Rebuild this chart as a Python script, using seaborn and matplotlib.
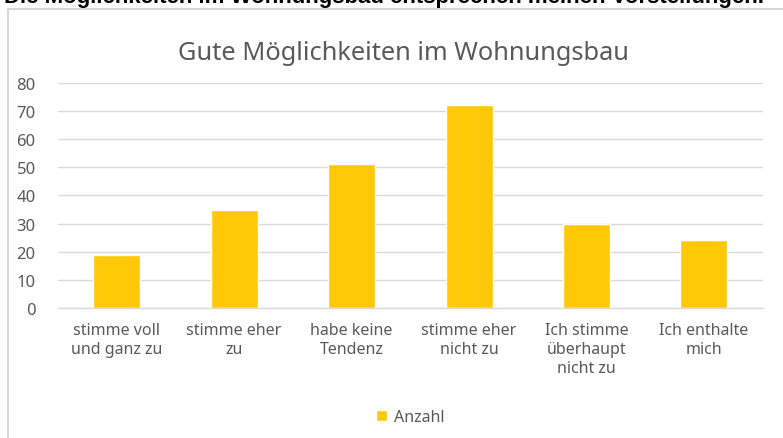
import matplotlib
matplotlib.use("Agg")
import matplotlib.pyplot as plt
from matplotlib.patches import Rectangle
import seaborn as sns
import pandas as pd

categories = [
    "stimme voll\nund ganz zu",
    "stimme eher\nzu",
    "habe keine\nTendenz",
    "stimme eher\nnicht zu",
    "Ich stimme\nüberhaupt\nnicht zu",
    "Ich enthalte\nmich",
]
anzahl = [19, 35, 51, 72, 30, 24]
y_ticks = [0, 10, 20, 30, 40, 50, 60, 70, 80]

sns.set_theme(style="white")
plt.rcParams["font.family"] = ["Noto Sans", "DejaVu Sans"]

text_grey = "#595959"
bar_color = "#FFC90A"

df = pd.DataFrame({"Kategorie": categories, "Anzahl": anzahl})

fig = plt.figure(figsize=(7.83, 4.39), dpi=100)
ax = fig.add_axes([0.074, 0.296, 0.90, 0.513])

sns.barplot(data=df, x="Kategorie", y="Anzahl", color=bar_color,
            width=0.4, ax=ax, label="Anzahl", saturation=1)

ax.set_ylim(0, 80)
ax.set_yticks(y_ticks)
ax.set_xlim(-0.5, len(categories) - 0.5)
ax.yaxis.grid(True, color="#D9D9D9", linewidth=1)
ax.set_axisbelow(True)
for side in ["top", "right", "left"]:
    ax.spines[side].set_visible(False)
ax.spines["bottom"].set_color("#D9D9D9")
ax.spines["bottom"].set_linewidth(1)
ax.set_xlabel("")
ax.set_ylabel("")
ax.tick_params(axis="both", length=0, labelsize=11.5, colors=text_grey, pad=10)
ax.tick_params(axis="y", labelsize=12, pad=16)
for lbl in ax.get_xticklabels():
    lbl.set_linespacing(1.25)

ax.set_title("Gute Möglichkeiten im Wohnungsbau", fontsize=18.3,
             color=text_grey, pad=17, x=0.49)

leg = ax.legend(loc="center", bbox_to_anchor=(0.5, -0.483), frameon=False,
                fontsize=11.5, handlelength=0.7, handleheight=0.7,
                handletextpad=0.4)
for t in leg.get_texts():
    t.set_color(text_grey)

# chart frame
fig.patches.append(Rectangle((0.010, -0.05), 1.2, 1.027, transform=fig.transFigure,
                             fill=False, edgecolor="#D0D0D0", linewidth=1.2))

# heading above the chart, partly cut off at the top edge
fig.text(0.005, 1.005, "Die Möglichkeiten im Wohnungsbau entsprechen meinen Vorstellungen.",
         fontsize=16, fontweight="bold", family=["Liberation Sans", "DejaVu Sans"],
         color="black", va="center", ha="left")

fig.savefig("out.png", dpi=100)
